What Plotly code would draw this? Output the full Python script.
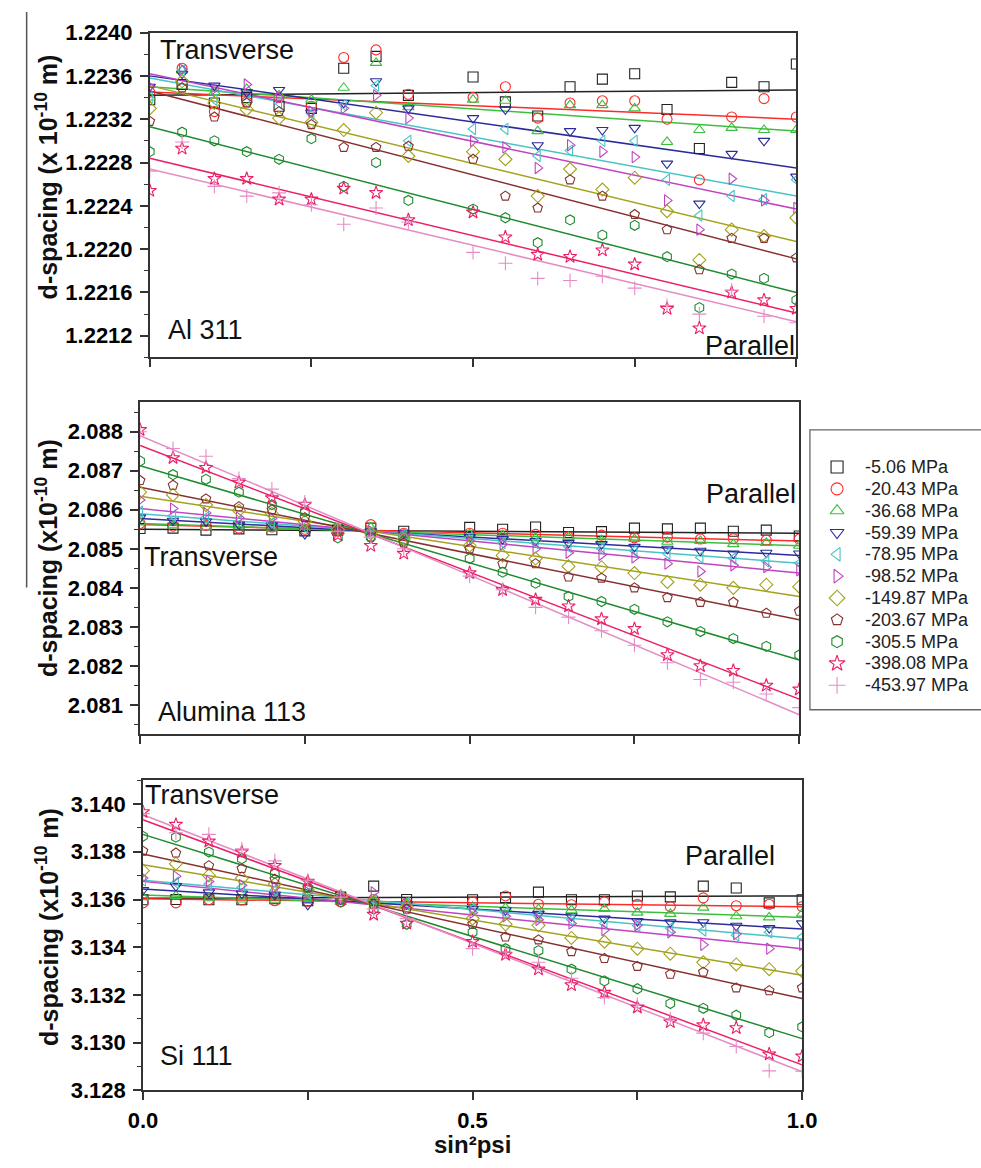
import plotly.graph_objects as go

W, H = 981, 1168

# ---------------- data ----------------
sin2psi = [0.0, 0.05, 0.10, 0.15, 0.20, 0.25, 0.30, 0.35, 0.40, 0.50,
           0.55, 0.60, 0.65, 0.70, 0.75, 0.80, 0.85, 0.90, 0.95, 1.00]

stress_labels = ["-5.06 MPa", "-20.43 MPa", "-36.68 MPa", "-59.39 MPa", "-78.95 MPa",
                 "-98.52 MPa", "-149.87 MPa", "-203.67 MPa", "-305.5 MPa",
                 "-398.08 MPa", "-453.97 MPa"]

# Al 311
al_5_06 = [1.22338, 1.22352, 1.22335, 1.22340, 1.22332, 1.22330, 1.22367, 1.22378, 1.22342, 1.22359,
           1.22336, 1.22323, 1.22350, 1.22357, 1.22362, 1.22329, 1.22293, 1.22354, 1.22350, 1.22371]
al_20_43 = [1.22345, 1.22367, 1.22327, 1.22336, 1.22340, 1.22332, 1.22377, 1.22384, 1.22343, 1.22340,
            1.22350, 1.22321, 1.22335, 1.22337, 1.22337, 1.22320, 1.22264, 1.22322, 1.22339, 1.22322]
al_36_68 = [1.22340, 1.22365, 1.22345, 1.22348, 1.22342, 1.22338, 1.22349, 1.22372, 1.22331, 1.22338,
            1.22337, 1.22309, 1.22333, 1.22333, 1.22330, 1.22299, 1.22310, 1.22312, 1.22310, 1.22310]
al_59_39 = [1.22350, 1.22362, 1.22351, 1.22345, 1.22347, 1.22326, 1.22335, 1.22355, 1.22330, 1.22321,
            1.22329, 1.22296, 1.22309, 1.22310, 1.22312, 1.22279, 1.22242, 1.22288, 1.22300, 1.22267]
al_78_95 = [1.22340, 1.22365, 1.22338, 1.22336, 1.22335, 1.22325, 1.22333, 1.22351, 1.22300, 1.22311,
            1.22311, 1.22286, 1.22291, 1.22300, 1.22300, 1.22264, 1.22231, 1.22249, 1.22246, 1.22264]
al_98_52 = [1.22350, 1.22366, 1.22348, 1.22352, 1.22340, 1.22327, 1.22330, 1.22342, 1.22321, 1.22300,
            1.22294, 1.22275, 1.22296, 1.22290, 1.22285, 1.22245, 1.22218, 1.22265, 1.22245, 1.22238]
al_149_87 = [1.22330, 1.22355, 1.22335, 1.22329, 1.22321, 1.22317, 1.22310, 1.22326, 1.22286, 1.22290,
             1.22283, 1.22249, 1.22274, 1.22255, 1.22266, 1.22235, 1.22190, 1.22218, 1.22212, 1.22229]
al_203_67 = [1.22318, 1.22349, 1.22322, 1.22335, 1.22327, 1.22315, 1.22294, 1.22294, 1.22295, 1.22283,
             1.22249, 1.22238, 1.22264, 1.22249, 1.22232, 1.22218, 1.22181, 1.22210, 1.22210, 1.22192]
al_305_5 = [1.22290, 1.22308, 1.22300, 1.22290, 1.22283, 1.22302, 1.22258, 1.22280, 1.22245, 1.22237,
            1.22229, 1.22206, 1.22227, 1.22213, 1.22222, 1.22193, 1.22146, 1.22177, 1.22173, 1.22153]
al_398_08 = [1.22254, 1.22293, 1.22265, 1.22265, 1.22246, 1.22246, 1.22256, 1.22252, 1.22227, 1.22234,
             1.22211, 1.22195, 1.22193, 1.22199, 1.22186, 1.22145, 1.22127, 1.22160, 1.22153, 1.22145]
al_453_97 = [1.22272, 1.22299, 1.22258, 1.22249, 1.22252, 1.22241, 1.22223, 1.22238, 1.22225, 1.22197,
             1.22187, 1.22173, 1.22171, 1.22175, 1.22164, 1.22148, 1.22140, 1.22162, 1.22138, 1.22132]
al_fit_at0 = [1.22342, 1.22345, 1.22350, 1.22360, 1.22358, 1.22362, 1.22351, 1.22346, 1.22313, 1.22284, 1.22274]
al_fit_at1 = [1.22347, 1.22320, 1.22309, 1.22275, 1.22249, 1.22237, 1.22207, 1.22191, 1.22160, 1.22141, 1.22133]

# Alumina 113
alu_5_06 = [2.08552, 2.08553, 2.08548, 2.08551, 2.08549, 2.08546, 2.08548, 2.08553, 2.08545, 2.08555,
            2.08550, 2.08556, 2.08542, 2.08544, 2.08553, 2.08551, 2.08553, 2.08545, 2.08548, 2.08533]
alu_20_43 = [2.08565, 2.08558, 2.08560, 2.08553, 2.08556, 2.08550, 2.08545, 2.08562, 2.08540, 2.08540,
             2.08540, 2.08537, 2.08530, 2.08535, 2.08528, 2.08530, 2.08525, 2.08526, 2.08522, 2.08525]
alu_36_68 = [2.08568, 2.08560, 2.08556, 2.08558, 2.08552, 2.08550, 2.08548, 2.08555, 2.08538, 2.08538,
             2.08535, 2.08528, 2.08530, 2.08522, 2.08525, 2.08518, 2.08520, 2.08512, 2.08515, 2.08508]
alu_59_39 = [2.08580, 2.08572, 2.08570, 2.08562, 2.08560, 2.08538, 2.08545, 2.08545, 2.08540, 2.08530,
             2.08525, 2.08520, 2.08515, 2.08512, 2.08505, 2.08500, 2.08495, 2.08488, 2.08490, 2.08488]
alu_78_95 = [2.08595, 2.08585, 2.08580, 2.08570, 2.08566, 2.08556, 2.08548, 2.08542, 2.08536, 2.08528,
             2.08515, 2.08515, 2.08505, 2.08500, 2.08495, 2.08488, 2.08478, 2.08475, 2.08468, 2.08463]
alu_98_52 = [2.08625, 2.08603, 2.08592, 2.08580, 2.08578, 2.08562, 2.08552, 2.08545, 2.08535, 2.08520,
             2.08512, 2.08500, 2.08490, 2.08485, 2.08478, 2.08462, 2.08442, 2.08458, 2.08453, 2.08445]
alu_149_87 = [2.08645, 2.08638, 2.08612, 2.08598, 2.08590, 2.08570, 2.08550, 2.08540, 2.08525, 2.08508,
              2.08483, 2.08475, 2.08455, 2.08453, 2.08438, 2.08415, 2.08408, 2.08400, 2.08408, 2.08403]
alu_203_67 = [2.08675, 2.08663, 2.08628, 2.08608, 2.08600, 2.08580, 2.08545, 2.08530, 2.08515, 2.08500,
              2.08462, 2.08462, 2.08428, 2.08425, 2.08400, 2.08375, 2.08363, 2.08363, 2.08335, 2.08340]
alu_305_5 = [2.08725, 2.08690, 2.08678, 2.08645, 2.08613, 2.08595, 2.08528, 2.08530, 2.08520, 2.08475,
             2.08440, 2.08412, 2.08378, 2.08365, 2.08345, 2.08313, 2.08288, 2.08270, 2.08250, 2.08228]
alu_398_08 = [2.08805, 2.08733, 2.08708, 2.08670, 2.08630, 2.08613, 2.08535, 2.08508, 2.08488, 2.08438,
              2.08395, 2.08370, 2.08353, 2.08320, 2.08295, 2.08228, 2.08200, 2.08188, 2.08150, 2.08140]
alu_453_97 = [2.08800, 2.08757, 2.08737, 2.08680, 2.08653, 2.08620, 2.08545, 2.08530, 2.08500, 2.08430,
              2.08395, 2.08350, 2.08325, 2.08290, 2.08253, 2.08208, 2.08165, 2.08158, 2.08128, 2.08093]
alu_fit_at0 = [2.08550, 2.08562, 2.08565, 2.08578, 2.08590, 2.08603, 2.08635, 2.08658, 2.08713, 2.08765, 2.08790]
alu_fit_at1 = [2.08540, 2.08520, 2.08508, 2.08483, 2.08463, 2.08438, 2.08378, 2.08318, 2.08215, 2.08115, 2.08075]

# Si 111
si_5_06 = [3.13599, 3.13600, 3.13599, 3.13599, 3.13603, 3.13595, 3.13610, 3.13656, 3.13600, 3.13599,
           3.13608, 3.13631, 3.13599, 3.13599, 3.13615, 3.13611, 3.13656, 3.13648, 3.13586, 3.13599]
si_20_43 = [3.13586, 3.13586, 3.13600, 3.13598, 3.13595, 3.13592, 3.13590, 3.13600, 3.13585, 3.13590,
            3.13615, 3.13580, 3.13578, 3.13590, 3.13580, 3.13570, 3.13607, 3.13574, 3.13580, 3.13570]
si_36_68 = [3.13610, 3.13615, 3.13605, 3.13600, 3.13599, 3.13595, 3.13590, 3.13590, 3.13585, 3.13570,
            3.13565, 3.13560, 3.13555, 3.13560, 3.13545, 3.13540, 3.13566, 3.13530, 3.13525, 3.13541]
si_59_39 = [3.13640, 3.13656, 3.13630, 3.13625, 3.13620, 3.13578, 3.13600, 3.13590, 3.13580, 3.13560,
            3.13555, 3.13540, 3.13530, 3.13520, 3.13510, 3.13505, 3.13505, 3.13490, 3.13480, 3.13500]
si_78_95 = [3.13680, 3.13670, 3.13665, 3.13650, 3.13640, 3.13625, 3.13610, 3.13600, 3.13585, 3.13560,
            3.13545, 3.13530, 3.13515, 3.13500, 3.13490, 3.13480, 3.13470, 3.13450, 3.13463, 3.13443]
si_98_52 = [3.13690, 3.13697, 3.13676, 3.13660, 3.13650, 3.13630, 3.13610, 3.13630, 3.13580, 3.13545,
            3.13530, 3.13515, 3.13500, 3.13472, 3.13492, 3.13463, 3.13410, 3.13455, 3.13394, 3.13410]
si_149_87 = [3.13721, 3.13750, 3.13701, 3.13689, 3.13665, 3.13640, 3.13615, 3.13590, 3.13570, 3.13520,
             3.13496, 3.13492, 3.13439, 3.13423, 3.13394, 3.13373, 3.13337, 3.13328, 3.13308, 3.13300]
si_203_67 = [3.13803, 3.13795, 3.13742, 3.13730, 3.13685, 3.13650, 3.13600, 3.13580, 3.13560, 3.13496,
             3.13443, 3.13431, 3.13382, 3.13353, 3.13320, 3.13287, 3.13296, 3.13230, 3.13218, 3.13230]
si_305_5 = [3.13865, 3.13861, 3.13799, 3.13771, 3.13709, 3.13648, 3.13590, 3.13560, 3.13496, 3.13463,
            3.13394, 3.13386, 3.13308, 3.13259, 3.13226, 3.13164, 3.13144, 3.13115, 3.13042, 3.13066]
si_398_08 = [3.13967, 3.13914, 3.13844, 3.13799, 3.13742, 3.13676, 3.13600, 3.13537, 3.13500, 3.13423,
             3.13369, 3.13308, 3.13242, 3.13210, 3.13148, 3.13087, 3.13074, 3.13062, 3.12952, 3.12943]
si_453_97 = [3.13960, 3.13880, 3.13873, 3.13812, 3.13762, 3.13681, 3.13610, 3.13560, 3.13520, 3.13394,
             3.13380, 3.13337, 3.13270, 3.13189, 3.13160, 3.13100, 3.13040, 3.12984, 3.12882, 3.12880]
si_fit_at0 = [3.13605, 3.13603, 3.13619, 3.13644, 3.13681, 3.13676, 3.13746, 3.13791, 3.13873, 3.13934, 3.13955]
si_fit_at1 = [3.13615, 3.13570, 3.13525, 3.13476, 3.13435, 3.13394, 3.13283, 3.13185, 3.13017, 3.12907, 3.12878]

fit_x = [0.0, 1.0]

# ---------------- style ----------------
colors = ["#222222", "#ff2a2a", "#3cbf3c", "#2b2b9c", "#48c4c4", "#c043c0",
          "#a3a21e", "#873030", "#1e8a2e", "#ec1f66", "#e58cc6"]
symbols = ["square-open", "circle-open", "triangle-up-open", "triangle-down-open",
           "triangle-left-open", "triangle-right-open", "diamond-open", "pentagon-open",
           "hexagon-open", "star-open", "cross-thin-open"]
FONT = "Liberation Sans, Arial, Helvetica, sans-serif"
AXC = "#333333"


def px(xp):
    return xp / W


def py(yp):
    return 1 - yp / H


panels = [
    dict(series=[al_5_06, al_20_43, al_36_68, al_59_39, al_78_95, al_98_52, al_149_87,
                 al_203_67, al_305_5, al_398_08, al_453_97],
         fit0=al_fit_at0, fit1=al_fit_at1),
    dict(series=[alu_5_06, alu_20_43, alu_36_68, alu_59_39, alu_78_95, alu_98_52, alu_149_87,
                 alu_203_67, alu_305_5, alu_398_08, alu_453_97],
         fit0=alu_fit_at0, fit1=alu_fit_at1),
    dict(series=[si_5_06, si_20_43, si_36_68, si_59_39, si_78_95, si_98_52, si_149_87,
                 si_203_67, si_305_5, si_398_08, si_453_97],
         fit0=si_fit_at0, fit1=si_fit_at1),
]

fig = go.Figure()
for p, panel in enumerate(panels):
    xa = "x" if p == 0 else f"x{p + 1}"
    ya = "y" if p == 0 else f"y{p + 1}"
    for j, ser in enumerate(panel["series"]):
        fig.add_trace(go.Scatter(
            x=fit_x, y=[panel["fit0"][j], panel["fit1"][j]], mode="lines",
            line=dict(color=colors[j], width=1.5), xaxis=xa, yaxis=ya,
            showlegend=False, hoverinfo="skip"))
    for j, ser in enumerate(panel["series"]):
        fig.add_trace(go.Scatter(
            x=sin2psi, y=ser, mode="markers", name=stress_labels[j],
            marker=dict(symbol=symbols[j], size=10, color=colors[j],
                        line=dict(color=colors[j], width=1.1)),
            xaxis=xa, yaxis=ya, showlegend=False))

# legend (drawn in its own small axis)
legend_rows = list(range(len(stress_labels)))
for j in legend_rows:
    fig.add_trace(go.Scatter(
        x=[0], y=[j], mode="markers", xaxis="x4", yaxis="y4", showlegend=False,
        marker=dict(symbol=symbols[j], size=12, color=colors[j],
                    line=dict(color=colors[j], width=1.1)),
        hoverinfo="skip", cliponaxis=False))

tickfont = dict(family=FONT, size=22, color="black", weight="bold")


def xaxis(domain, anchor, labels):
    ax = dict(domain=domain, anchor=anchor, range=[0, 1],
              ticks="outside", ticklen=8, tickwidth=1.5, tickcolor=AXC,
              showline=True, linecolor=AXC, linewidth=1.5, mirror=True,
              showgrid=False, zeroline=False, tickfont=tickfont)
    if labels:
        ax.update(tick0=0, dtick=0.5, tickformat=".1f", ticklabelstandoff=1,
                  minor=dict(tick0=0, dtick=0.25, ticks="outside", ticklen=8,
                             tickwidth=1.5, tickcolor=AXC, showgrid=False))
    else:
        ax.update(tick0=0, dtick=0.25, showticklabels=False)
    return ax


def yaxis(domain, anchor, rng, dtick, tick0, fmt, mdtick):
    return dict(domain=domain, anchor=anchor, range=rng, dtick=dtick, tick0=tick0,
                tickformat=fmt, ticks="outside", ticklen=8, tickwidth=1.5, tickcolor=AXC,
                ticklabelstandoff=3,
                minor=dict(dtick=mdtick, tick0=tick0, ticks="outside", ticklen=4,
                           tickwidth=1.2, tickcolor=AXC, showgrid=False),
                showline=True, linecolor=AXC, linewidth=1.5, mirror=True,
                showgrid=False, zeroline=False, tickfont=tickfont)


annotations = []


def note(text, x, y, xanchor="left", size=27):
    annotations.append(dict(text=text, x=px(x), y=py(y), xref="paper", yref="paper",
                            xanchor=xanchor, yanchor="middle", showarrow=False,
                            font=dict(family=FONT, size=size, color="#111111")))


# panel labels
note("Transverse", 148, 39)
note("Al 311", 156, 325)
note("Parallel", 807, 341, xanchor="right")
note("Transverse", 131, 557)
note("Alumina 113", 145, 715)
note("Parallel", 808, 493, xanchor="right")
note("Transverse", 132, 800)
note("Si 111", 148, 1067)
note("Parallel", 786, 862, xanchor="right")

# axis titles
ytitle_font = dict(family=FONT, size=25, color="#111111", weight="bold")
for txt, yc in [("d-spacing (x 10<sup>-10</sup> m)", 168),
                ("d-spacing (x10<sup>-10</sup> m)", 558),
                ("d-spacing (x10<sup>-10</sup> m)", 935)]:
    annotations.append(dict(text=txt, x=px(33), y=py(yc), xref="paper", yref="paper",
                            xanchor="center", yanchor="middle", textangle=-90,
                            showarrow=False, font=ytitle_font))
annotations.append(dict(text="sin²psi", x=px(472), y=py(1157), xref="paper", yref="paper",
                        xanchor="center", yanchor="middle", showarrow=False,
                        font=dict(family=FONT, size=24, color="#111111", weight="bold")))

# legend texts
for j in legend_rows:
    annotations.append(dict(text=stress_labels[j], x=27, y=j, xref="x4", yref="y4",
                            xanchor="left", yanchor="middle", showarrow=False,
                            font=dict(family=FONT, size=18, color="#222222")))

shapes = [
    dict(type="rect", xref="paper", yref="paper", x0=px(820), x1=px(1000),
         y0=py(427), y1=py(713), line=dict(color="#666666", width=1.3)),
    dict(type="line", xref="paper", yref="paper", x0=px(12), x1=px(12),
         y0=py(0), y1=py(588), line=dict(color="#555555", width=1.5)),
]

fig.update_layout(
    width=W, height=H, margin=dict(l=0, r=0, t=0, b=0),
    paper_bgcolor="white", plot_bgcolor="white", showlegend=False,
    xaxis=xaxis([px(139), px(806)], "y", False),
    yaxis=yaxis([py(353), py(21)], "x", [1.2210, 1.2240], 0.0004, 1.2212, ".4f", 0.0002),
    xaxis2=xaxis([px(129), px(809)], "y2", False),
    yaxis2=yaxis([py(738), py(399)], "x2", [2.08025, 2.08875], 0.001, 2.081, ".3f", 0.0005),
    xaxis3=xaxis([px(132), px(812)], "y3", True),
    yaxis3=yaxis([py(1102), py(785)], "x3", [3.128, 3.141], 0.002, 3.128, ".3f", 0.001),
    xaxis4=dict(domain=[px(820), 1.0], anchor="y4", range=[-28, 133], visible=False,
                fixedrange=True),
    yaxis4=dict(domain=[py(713), py(427)], anchor="x4", range=[11.12, -1.704],
                visible=False, fixedrange=True),
    annotations=annotations, shapes=shapes,
)

fig.write_html("out.html")
